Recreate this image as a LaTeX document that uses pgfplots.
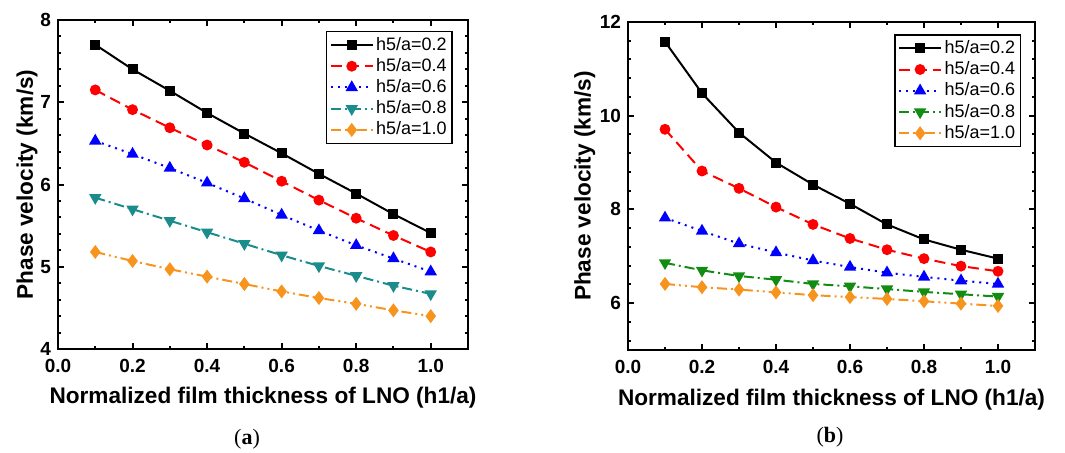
\documentclass[border=0pt]{standalone}
\usepackage{fontspec}
\setmainfont{Liberation Sans}
\newfontfamily\capfont{Liberation Serif}
\usepackage{pgfplots}
\pgfplotsset{compat=1.18}
\definecolor{cteal}{HTML}{1A8C8C}
\definecolor{cgreen}{HTML}{128C12}
\definecolor{corange}{HTML}{F7941D}

\newcommand{\lblfont}{\fontsize{11.3}{13}\selectfont\bfseries}
\pgfplotsset{
  panel/.style={
    scale only axis,
    xmin=0, xmax=1.1,
    xtick={0,0.2,0.4,0.6,0.8,1.0},
    minor x tick num=1,
    tick align=inside,
    axis line style={line width=1.2pt},
    every tick/.style={line width=1pt, black},
    major tick length=2.8pt, minor tick length=1.6pt,
    /pgf/number format/assume math mode=true,
    tick label style={font=\fontsize{9.5}{11}\selectfont\bfseries},
    xticklabel style={yshift=-1.5pt, /pgf/number format/.cd, fixed, fixed zerofill, precision=1},
    legend cell align=left,
    legend image code/.code={\draw[mark repeat=2,mark phase=2] plot coordinates {(0pt,0pt) (10.5pt,0pt) (21pt,0pt)};},
    legend style={anchor=north east, draw=black, line width=0.7pt,
      font=\fontsize{9}{10}\selectfont, inner sep=1.5pt,
      nodes={inner sep=1.2pt}, row sep=0.2pt},
  },
  s1/.style={black, line width=1pt, mark=square*, mark size=2pt, mark options={solid}},
  s2/.style={red, line width=1pt, dash pattern=on 5.5pt off 3pt, mark=*, mark size=2.2pt, mark options={solid}},
  s3/.style={blue, line width=1pt, dash pattern=on 1pt off 2.5pt, mark=triangle*, mark size=2.6pt, mark options={solid}},
  s5/.style={corange, line width=1pt, dash pattern=on 5pt off 2pt on 1pt off 2pt on 1pt off 2pt, mark=diamond*, mark size=2.7pt, mark options={solid}},
}

\begin{document}
\begin{tikzpicture}
\useasboundingbox (0,0) rectangle (532.5pt,226pt);

% (a)
\begin{axis}[panel,
  at={(29pt,51.5pt)}, anchor=south west,
  width=205pt, height=164.5pt,
  ymin=4, ymax=8, ytick={4,5,6,7,8}, minor y tick num=4,
  xlabel={Normalized film thickness of LNO (h1/a)},
  ylabel={Phase velocity (km/s)},
  every axis x label/.style={at={(axis description cs:0.5,-0.149)}, anchor=center, font=\lblfont},
  every axis y label/.style={at={(axis description cs:-0.0756,0.5)}, rotate=90, anchor=center, font=\lblfont},
  legend style={at={(axis description cs:0.963,0.967)}},
]
\addplot[s1] coordinates {(0.1,7.70)(0.2,7.40)(0.3,7.14)(0.4,6.87)(0.5,6.62)(0.6,6.38)(0.7,6.13)(0.8,5.89)(0.9,5.64)(1.0,5.41)};
\addplot[s2] coordinates {(0.1,7.15)(0.2,6.91)(0.3,6.69)(0.4,6.48)(0.5,6.27)(0.6,6.04)(0.7,5.81)(0.8,5.59)(0.9,5.38)(1.0,5.18)};
\addplot[s3] coordinates {(0.1,6.53)(0.2,6.37)(0.3,6.20)(0.4,6.02)(0.5,5.83)(0.6,5.63)(0.7,5.44)(0.8,5.26)(0.9,5.10)(1.0,4.94)};
\addplot[cteal, line width=1pt, dash pattern=on 5pt off 2pt on 1pt off 2pt, mark=triangle*, mark size=2.6pt, mark options={solid, rotate=180}] coordinates {(0.1,5.84)(0.2,5.70)(0.3,5.56)(0.4,5.42)(0.5,5.28)(0.6,5.14)(0.7,5.01)(0.8,4.89)(0.9,4.77)(1.0,4.67)};
\addplot[s5] coordinates {(0.1,5.18)(0.2,5.07)(0.3,4.97)(0.4,4.88)(0.5,4.79)(0.6,4.70)(0.7,4.62)(0.8,4.55)(0.9,4.47)(1.0,4.40)};
\legend{h5/a=0.2, h5/a=0.4, h5/a=0.6, h5/a=0.8, h5/a=1.0}
\end{axis}

% (b)
\begin{axis}[panel,
  at={(314pt,51pt)}, anchor=south west,
  width=203.5pt, height=164pt,
  ymin=5, ymax=12, ytick={6,8,10,12},
  minor ytick={5.2,5.6,6.4,6.8,7.2,7.6,8.4,8.8,9.2,9.6,10.4,10.8,11.2,11.6},
  xlabel={Normalized film thickness of LNO (h1/a)},
  ylabel={Phase velocity (km/s)},
  every axis x label/.style={at={(axis description cs:0.5,-0.152)}, anchor=center, font=\lblfont},
  every axis y label/.style={at={(axis description cs:-0.106,0.5)}, rotate=90, anchor=center, font=\lblfont},
  legend style={at={(axis description cs:0.966,0.963)}},
]
\addplot[s1] coordinates {(0.1,11.58)(0.2,10.48)(0.3,9.64)(0.4,9.00)(0.5,8.53)(0.6,8.12)(0.7,7.68)(0.8,7.36)(0.9,7.14)(1.0,6.95)};
\addplot[s2] coordinates {(0.1,9.71)(0.2,8.82)(0.3,8.45)(0.4,8.05)(0.5,7.68)(0.6,7.38)(0.7,7.14)(0.8,6.95)(0.9,6.79)(1.0,6.68)};
\addplot[s3] coordinates {(0.1,7.82)(0.2,7.54)(0.3,7.27)(0.4,7.08)(0.5,6.91)(0.6,6.77)(0.7,6.65)(0.8,6.56)(0.9,6.48)(1.0,6.41)};
\addplot[cgreen, line width=1pt, dash pattern=on 5pt off 2pt on 1pt off 2pt, mark=triangle*, mark size=2.6pt, mark options={solid, rotate=180}] coordinates {(0.1,6.86)(0.2,6.70)(0.3,6.58)(0.4,6.50)(0.5,6.41)(0.6,6.36)(0.7,6.30)(0.8,6.24)(0.9,6.19)(1.0,6.14)};
\addplot[s5] coordinates {(0.1,6.41)(0.2,6.34)(0.3,6.29)(0.4,6.23)(0.5,6.17)(0.6,6.13)(0.7,6.09)(0.8,6.04)(0.9,5.99)(1.0,5.94)};
\legend{h5/a=0.2, h5/a=0.4, h5/a=0.6, h5/a=0.8, h5/a=1.0}
\end{axis}

\node[font=\capfont\fontsize{11}{13}\selectfont] at (123.5pt,6.5pt) {(\textbf{a})};
\node[font=\capfont\fontsize{11}{13}\selectfont] at (415pt,7.5pt) {(\textbf{b})};
\end{tikzpicture}
\end{document}
